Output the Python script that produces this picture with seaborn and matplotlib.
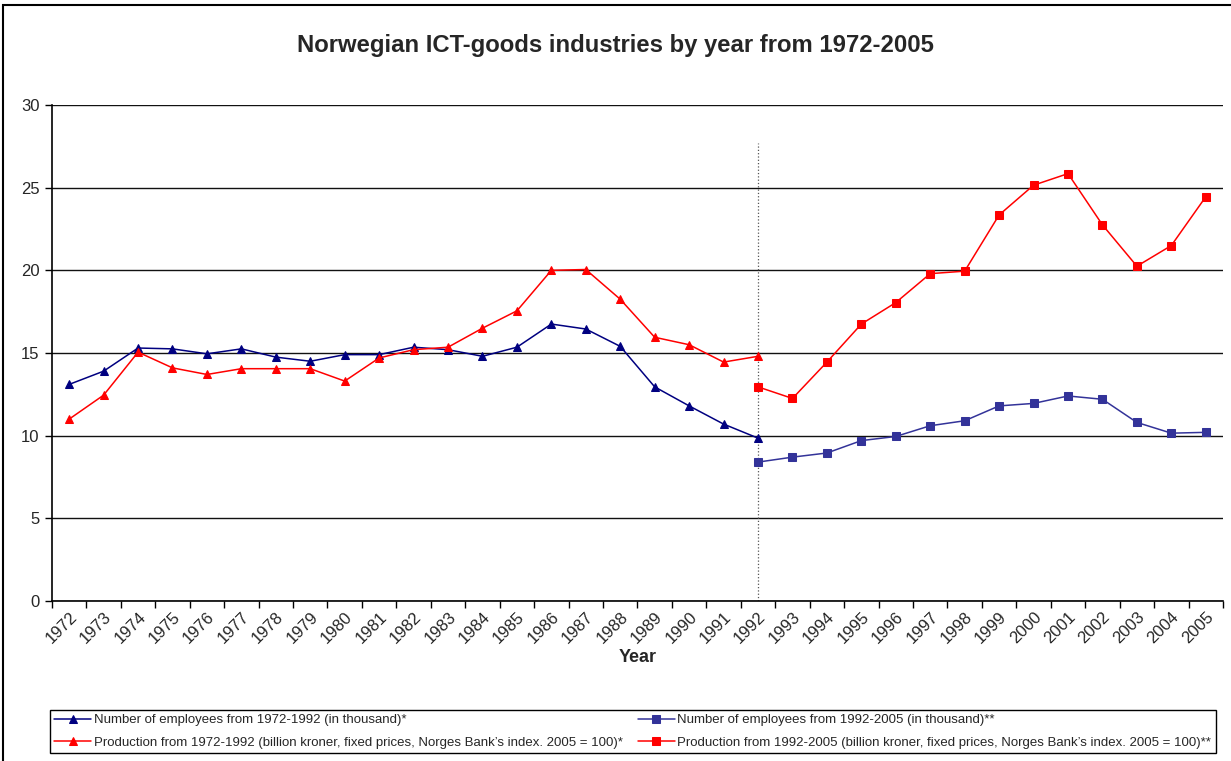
"""Norwegian ICT-goods industries, 1972-2005."""

import matplotlib.pyplot as plt
import matplotlib.patches as mpatches
import matplotlib.transforms as mtransforms
from matplotlib.ticker import MultipleLocator
import seaborn as sns
import pandas as pd

# Data
years_early = list(range(1972, 1993))
years_late = list(range(1992, 2006))

employees_early = [13.1, 13.9, 15.3, 15.25, 14.95, 15.25, 14.75, 14.5, 14.9, 14.9,
                   15.35, 15.2, 14.8, 15.35, 16.75, 16.45, 15.4, 12.95, 11.8, 10.7, 9.85]
production_early = [11.0, 12.45, 15.05, 14.1, 13.7, 14.05, 14.05, 14.05, 13.3, 14.7,
                    15.2, 15.35, 16.5, 17.55, 20.0, 20.05, 18.25, 15.95, 15.5, 14.45, 14.8]
employees_late = [8.4, 8.7, 8.95, 9.7, 9.95, 10.6, 10.9, 11.8, 11.95, 12.4,
                  12.2, 10.8, 10.15, 10.2]
production_late = [12.95, 12.25, 14.45, 16.75, 18.05, 19.8, 19.95, 23.35, 25.15, 25.85,
                   22.75, 20.25, 21.5, 24.45]

labels = [
    "Number of employees from 1972-1992 (in thousand)*",
    "Production from 1972-1992 (billion kroner, fixed prices, Norges Bank\u2019s index. 2005 = 100)*",
    "Number of employees from 1992-2005 (in thousand)**",
    "Production from 1992-2005 (billion kroner, fixed prices, Norges Bank\u2019s index. 2005 = 100)**",
]

sns.set_style("white")
plt.rcParams["font.family"] = ["Liberation Sans", "DejaVu Sans"]

fig = plt.figure(figsize=(12.31, 7.61), dpi=100)
ax = fig.add_axes([0.0422, 0.2103, 0.9513, 0.6517])

series = [
    (years_early, employees_early, labels[0], "#000080", "^"),
    (years_early, production_early, labels[1], "#FF0000", "^"),
    (years_late, employees_late, labels[2], "#333399", "s"),
    (years_late, production_late, labels[3], "#FF0000", "s"),
]
for xs, ys, lab, col, mk in series:
    df = pd.DataFrame({"year": xs, "value": ys})
    sns.lineplot(data=df, x="year", y="value", ax=ax, color=col, marker=mk,
                 markersize=6, markeredgecolor=col, linewidth=1.1, label=lab, zorder=3)

# dotted separator at 1992
ax.axvline(1992, ymin=0, ymax=27.7 / 30, color="#555555", linestyle=":", linewidth=0.9, zorder=2)

ax.set_xlim(1971.5, 2005.5)
ax.set_ylim(0, 30)
ax.yaxis.set_major_locator(MultipleLocator(5))
ax.set_xticks(range(1972, 2006))
ax.set_xticklabels([str(y) for y in range(1972, 2006)], rotation=45, ha="right",
                   rotation_mode="anchor", fontsize=12)
shift = mtransforms.ScaledTranslation(-6 / 100, 0, fig.dpi_scale_trans)
for lbl in ax.get_xticklabels():
    lbl.set_transform(lbl.get_transform() + shift)
ax.xaxis.set_minor_locator(MultipleLocator(1, offset=0.5))
ax.tick_params(axis="x", which="major", length=0, pad=6)
ax.tick_params(axis="x", which="minor", length=5, width=1, color="black", direction="out")
ax.tick_params(axis="y", which="major", length=5, width=1, color="black", direction="out",
               labelsize=12, pad=4)
ax.tick_params(bottom=True, left=True, which="both")

ax.grid(axis="y", color="#111111", linewidth=1.0)
ax.get_ygridlines()[-1].set_color("#dddddd")
ax.set_axisbelow(True)

for side in ["top", "right"]:
    ax.spines[side].set_visible(False)
for side in ["left", "bottom"]:
    ax.spines[side].set_color("black")
    ax.spines[side].set_linewidth(1.2)

ax.set_xlabel("Year", fontsize=13, fontweight="bold", labelpad=2)
ax.set_ylabel("")
fig.suptitle("Norwegian ICT-goods industries by year from 1972-2005",
             x=0.5, y=0.955, fontsize=17.2, fontweight="bold")

handles, labs = ax.get_legend_handles_labels()
ax.legend_.remove()
leg = fig.legend(handles, labs, ncol=2, loc="upper left",
                 bbox_to_anchor=(0.035, 1 - 703 / 761, 0.958, 0.0), mode="expand",
                 fontsize=9.5, frameon=True, fancybox=False, framealpha=1,
                 edgecolor="black", handlelength=2.8, handletextpad=0.2,
                 borderpad=0.35, labelspacing=0.75, columnspacing=1.0)
leg.get_frame().set_linewidth(1.0)

# outer chart border
fig.patches.append(mpatches.Rectangle((3 / 1231, -0.01), 1.2, 1.0 - 5 / 761 + 0.01,
                                      transform=fig.transFigure, fill=False,
                                      edgecolor="black", linewidth=1.5))

fig.savefig("out.png", dpi=100)
